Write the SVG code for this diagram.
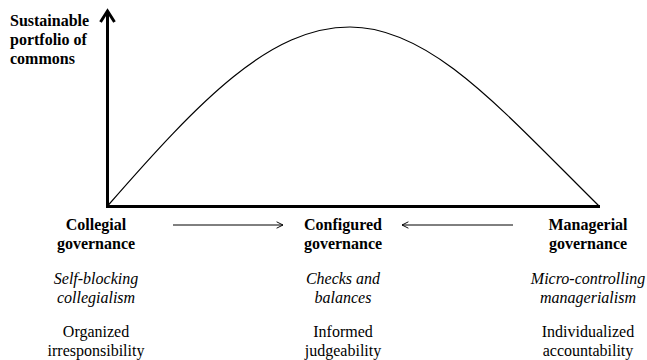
<svg xmlns="http://www.w3.org/2000/svg" width="647" height="360" viewBox="0 0 647 360" font-family="'Liberation Serif', 'DejaVu Serif', serif">
<style>
text { font-family: 'Liberation Serif', 'DejaVu Serif', serif; font-size: 16px; fill: #000; }
.b { font-weight: bold; }
.i { font-style: italic; }
.c { text-anchor: middle; }
.axis { stroke: #000; stroke-width: 3; fill: none; }
.thin { stroke: #000; stroke-width: 1; fill: none; }
.curve { stroke: #000; stroke-width: 1.2; fill: none; }
</style>
<defs>
<marker id="open" viewBox="0 0 10 10" refX="9" refY="5" markerWidth="8" markerHeight="8" markerUnits="userSpaceOnUse" orient="auto">
<path d="M1,1 L9,5 L1,9" fill="none" stroke="#000" stroke-width="1.2"/>
</marker>
</defs>
<g id="axes">
<path class="axis" d="M107.5,206.5 L107.5,12"/>
<path class="axis" d="M100.5,22 L107.5,11 L114.5,22" stroke-linejoin="miter"/>
<path class="axis" d="M106,206.5 L600,206.5"/>
</g>
<g id="curve">
<path class="curve" d="M107.5,206 C200,100 270,27 350,27 C430,27 500,108 599,206"/>
</g>
<g id="y-label">
<text class="b" x="10" y="26">Sustainable</text>
<text class="b" x="10" y="45">portfolio of</text>
<text class="b" x="10" y="64">commons</text>
</g>
<g id="connectors">
<path class="thin" d="M173,225 L283,225" marker-end="url(#open)"/>
<path class="thin" d="M513,225 L402,225" marker-end="url(#open)"/>
</g>
<g id="collegial">
<text class="b c" x="96" y="230">Collegial</text>
<text class="b c" x="96" y="249">governance</text>
<text class="i c" x="96" y="284">Self-blocking</text>
<text class="i c" x="96" y="303">collegialism</text>
<text class="c" x="96" y="337">Organized</text>
<text class="c" x="96" y="356">irresponsibility</text>
</g>
<g id="configured">
<text class="b c" x="343" y="230">Configured</text>
<text class="b c" x="343" y="249">governance</text>
<text class="i c" x="343" y="284">Checks and</text>
<text class="i c" x="343" y="303">balances</text>
<text class="c" x="343" y="337">Informed</text>
<text class="c" x="343" y="356">judgeability</text>
</g>
<g id="managerial">
<text class="b c" x="588" y="230">Managerial</text>
<text class="b c" x="588" y="249">governance</text>
<text class="i c" x="588" y="284">Micro-controlling</text>
<text class="i c" x="588" y="303">managerialism</text>
<text class="c" x="588" y="337">Individualized</text>
<text class="c" x="588" y="356">accountability</text>
</g>
</svg>
